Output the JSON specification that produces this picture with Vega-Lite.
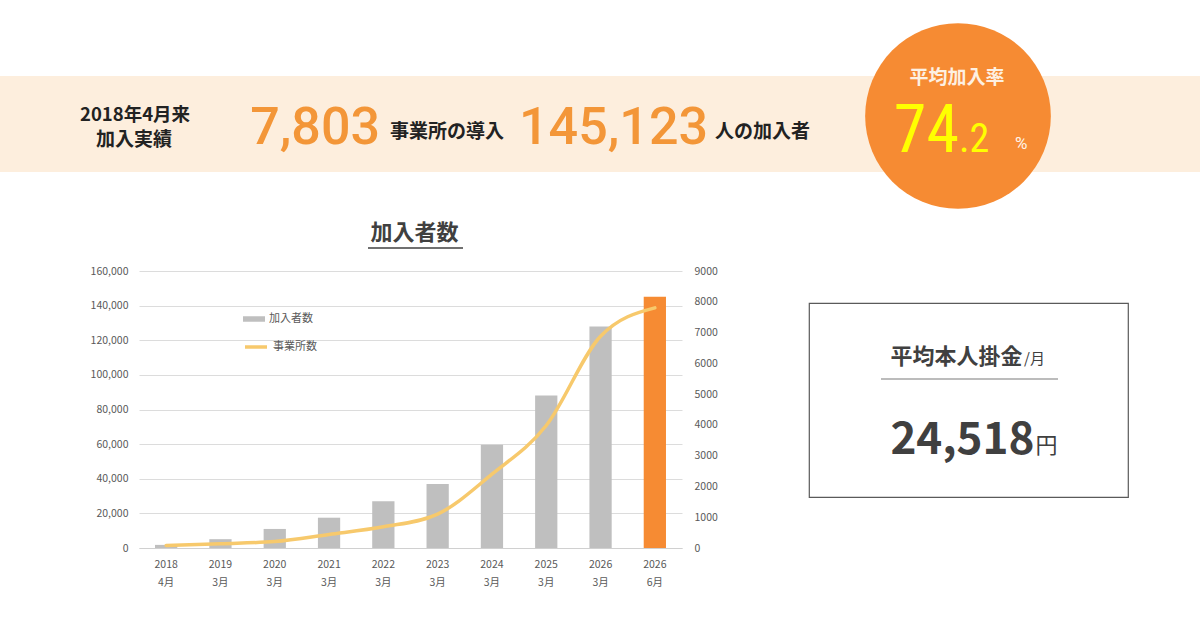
{
  "$schema": "https://vega.github.io/schema/vega-lite/v6.json",
  "background": "white",
  "padding": {"left": 0, "top": 23, "right": 0, "bottom": 0},
  "config": {
    "view": {"stroke": null},
    "font": "Noto Sans CJK JP",
    "axis": {"labelFont": "Noto Sans CJK JP"},
    "legend": {"labelFont": "Noto Sans CJK JP"}
  },
  "datasets": {
    "yearly": [
      {"period": "2018 4月", "members": 1800, "offices": 80},
      {"period": "2019 3月", "members": 5100, "offices": 140},
      {"period": "2020 3月", "members": 11000, "offices": 210},
      {"period": "2021 3月", "members": 17500, "offices": 440},
      {"period": "2022 3月", "members": 27000, "offices": 690},
      {"period": "2023 3月", "members": 37000, "offices": 1100},
      {"period": "2024 3月", "members": 59600, "offices": 2400},
      {"period": "2025 3月", "members": 88100, "offices": 3980},
      {"period": "2026 3月", "members": 128000, "offices": 6880},
      {"period": "2026 6月", "members": 145123, "offices": 7803}
    ],
    "kpi": [
      {"offices": 7803, "members": 145123, "rate": 74.2, "premium": 24518}
    ]
  },
  "spacing": 13,
  "vconcat": [
    {
      "width": 1200,
      "height": 96,
      "view": {"fill": "#fdeedd", "stroke": null},
      "data": {"name": "kpi"},
      "layer": [
        {
          "mark": {"type": "point", "shape": "circle", "filled": true, "size": 34484, "color": "#f68b33", "opacity": 1, "xOffset": 358, "yOffset": -8},
          "encoding": {}
        },
        {
          "mark": {"type": "text", "align": "center", "baseline": "alphabetic", "dx": -465, "dy": -3, "fontSize": 18.5, "fontWeight": "bold", "color": "#222222"},
          "encoding": {"text": {"value": "2018年4月来"}}
        },
        {
          "mark": {"type": "text", "align": "center", "baseline": "alphabetic", "dx": -466, "dy": 22, "fontSize": 19, "fontWeight": "bold", "color": "#222222"},
          "encoding": {"text": {"value": "加入実績"}}
        },
        {
          "mark": {"type": "text", "align": "right", "baseline": "alphabetic", "dx": -220, "dy": 20, "fontSize": 52, "fontWeight": 500, "font": "Roboto", "color": "#f39638"},
          "encoding": {"text": {"field": "offices", "type": "quantitative", "format": ","}}
        },
        {
          "mark": {"type": "text", "align": "left", "baseline": "alphabetic", "dx": -210, "dy": 14, "fontSize": 19, "fontWeight": "bold", "color": "#222222"},
          "encoding": {"text": {"value": "事業所の導入"}}
        },
        {
          "mark": {"type": "text", "align": "right", "baseline": "alphabetic", "dx": 108, "dy": 20, "fontSize": 52, "fontWeight": 500, "font": "Roboto", "color": "#f39638"},
          "encoding": {"text": {"field": "members", "type": "quantitative", "format": ","}}
        },
        {
          "mark": {"type": "text", "align": "left", "baseline": "alphabetic", "dx": 115, "dy": 14, "fontSize": 19, "fontWeight": "bold", "color": "#222222"},
          "encoding": {"text": {"value": "人の加入者"}}
        },
        {
          "mark": {"type": "text", "align": "center", "baseline": "alphabetic", "dx": 357, "dy": -40, "fontSize": 19, "fontWeight": "bold", "color": "#fdf0e2"},
          "encoding": {"text": {"value": "平均加入率"}}
        },
        {
          "mark": {"type": "text", "align": "right", "baseline": "alphabetic", "dx": 359, "dy": 28, "fontSize": 66, "fontWeight": "normal", "font": "Roboto Condensed, Liberation Sans Narrow, Roboto", "color": "#ffff00"},
          "encoding": {"text": {"field": "rate", "type": "quantitative", "format": ".0f"}}
        },
        {
          "mark": {"type": "text", "align": "left", "baseline": "alphabetic", "dx": 359, "dy": 28, "fontSize": 40, "fontWeight": "normal", "font": "Roboto Condensed, Liberation Sans Narrow, Roboto", "color": "#ffff00"},
          "encoding": {"text": {"value": ".2"}}
        },
        {
          "mark": {"type": "text", "align": "left", "baseline": "alphabetic", "dx": 415, "dy": 25, "fontSize": 17, "font": "Roboto", "color": "#fff4e8"},
          "encoding": {"text": {"value": "%"}}
        }
      ]
    },
    {
      "spacing": 0,
      "hconcat": [
        {
          "width": 90,
          "height": 1,
          "data": {"values": []},
          "mark": "point",
          "encoding": {}
        },
        {
          "width": 543,
          "height": 277,
          "title": {"text": "加入者数", "fontSize": 22, "fontWeight": "bold", "color": "#404040", "anchor": "middle", "frame": "group", "offset": 2, "dx": 4, "font": "Noto Sans CJK JP"},
          "data": {"name": "yearly"},
          "layer": [
            {
              "mark": {"type": "bar"},
              "encoding": {
                "x": {
                  "field": "period", "type": "ordinal", "sort": null,
                  "scale": {"paddingInner": 0.59, "paddingOuter": 0.295},
                  "axis": {"title": null, "labelAngle": 0, "labelExpr": "split(datum.label, ' ')", "labelFontSize": 10.5, "labelColor": "#595959", "labelPadding": 11, "labelLineHeight": 18, "ticks": false, "domainColor": "#d0d0d0"}
                },
                "y": {
                  "field": "members", "type": "quantitative",
                  "scale": {"domain": [0, 160000]},
                  "axis": {"title": null, "values": [0, 20000, 40000, 60000, 80000, 100000, 120000, 140000, 160000], "format": ",.0f", "grid": true, "gridColor": "#dcdcdc", "domain": false, "ticks": false, "labelPadding": 11, "labelFontSize": 10.5, "labelColor": "#595959"}
                },
                "color": {
                  "datum": "加入者数", "type": "nominal",
                  "scale": {"range": ["#bfbfbf"]},
                  "condition": {"test": "datum.period === '2026 6月'", "value": "#f68b33"},
                  "legend": {"orient": "none", "legendX": 243, "legendY": 232, "title": null, "padding": 0, "symbolType": "M-1,-0.25H1V0.25H-1Z", "symbolSize": 484, "symbolStrokeWidth": 0, "labelFontSize": 11, "labelColor": "#595959", "labelOffset": 4}
                }
              }
            },
            {
              "mark": {"type": "line", "interpolate": "monotone", "strokeWidth": 3.5, "strokeCap": "round"},
              "encoding": {
                "x": {"field": "period", "type": "ordinal", "sort": null},
                "y": {
                  "field": "offices", "type": "quantitative",
                  "scale": {"domain": [0, 9000]},
                  "axis": {"orient": "right", "title": null, "values": [0, 1000, 2000, 3000, 4000, 5000, 6000, 7000, 8000, 9000], "format": "d", "grid": false, "domain": false, "ticks": false, "labelPadding": 12, "labelFontSize": 10.5, "labelColor": "#595959"}
                },
                "stroke": {
                  "datum": "事業所数", "type": "nominal",
                  "scale": {"range": ["#f7c96c"]},
                  "legend": {"orient": "none", "legendX": 243, "legendY": 258, "title": null, "padding": 0, "symbolType": "stroke", "symbolSize": 484, "symbolStrokeWidth": 3.5, "labelFontSize": 11, "labelColor": "#595959", "labelOffset": 4}
                }
              }
            },
            {
              "data": {"values": [{"label": "加入者数"}]},
              "mark": {"type": "tick", "orient": "horizontal", "size": 95, "thickness": 1.5, "color": "#404040", "opacity": 1, "xOffset": 5, "yOffset": -161.5, "clip": false},
              "encoding": {}
            }
          ],
          "resolve": {"scale": {"y": "independent"}}
        },
        {
          "width": 90,
          "height": 1,
          "data": {"values": []},
          "mark": "point",
          "encoding": {}
        },
        {
          "spacing": 0,
          "vconcat": [
            {
              "width": 319,
              "height": 31,
              "data": {"values": []},
              "mark": "point",
              "encoding": {}
            },
            {
              "width": 319,
              "height": 194,
              "view": {"stroke": "#5a5a5a", "strokeWidth": 1.2, "fill": "white"},
              "data": {"name": "kpi"},
              "layer": [
                {
                  "mark": {"type": "text", "align": "right", "baseline": "alphabetic", "dx": 54, "dy": -36, "fontSize": 22, "fontWeight": "bold", "color": "#404040"},
                  "encoding": {"text": {"value": "平均本人掛金"}}
                },
                {
                  "mark": {"type": "text", "align": "left", "baseline": "alphabetic", "dx": 55.5, "dy": -36, "fontSize": 15, "color": "#404040"},
                  "encoding": {"text": {"value": "/月"}}
                },
                {
                  "mark": {"type": "tick", "orient": "horizontal", "size": 177, "thickness": 1.2, "color": "#7a7a7a", "opacity": 1, "xOffset": 1, "yOffset": -21},
                  "encoding": {}
                },
                {
                  "mark": {"type": "text", "align": "right", "baseline": "alphabetic", "dx": 66, "dy": 54, "fontSize": 44, "fontWeight": "bold", "color": "#404040"},
                  "encoding": {"text": {"field": "premium", "type": "quantitative", "format": ","}}
                },
                {
                  "mark": {"type": "text", "align": "left", "baseline": "alphabetic", "dx": 67, "dy": 53, "fontSize": 22, "color": "#404040"},
                  "encoding": {"text": {"value": "円"}}
                }
              ]
            }
          ]
        }
      ]
    }
  ]
}
